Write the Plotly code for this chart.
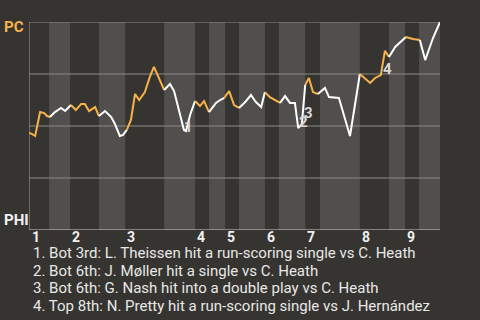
import plotly.graph_objects as go
import bisect

# ---- data ----
# game progress (% of plays elapsed) and PC win probability
progress = [0, 0.7, 1.5, 2.7, 3.7, 4.4, 5.1, 6.3, 7.8, 8.8, 10.2, 11.4, 12.7, 13.6, 14.6,
            16.1, 17.0, 18.5, 20.0, 20.9, 22.1, 22.9, 23.8, 24.8, 25.8, 26.8, 28.2, 29.4,
            30.4, 31.6, 32.9, 34.3, 35.3, 36.3, 37.7, 38.2, 39.2, 40.4, 41.6, 42.6, 43.8,
            45.5, 46.5, 47.5, 48.7, 49.9, 51.1, 52.6, 54.0, 55.2, 56.5, 57.4, 58.6, 61.1,
            62.3, 63.5, 64.7, 65.5, 66.4, 67.2, 68.1, 69.1, 70.3, 72.0, 73.0, 75.4, 76.4,
            78.1, 80.5, 83.0, 84.2, 85.6, 86.6, 87.6, 89.1, 91.7, 93.4, 95.1, 96.4, 98.3, 100]
pc_win = [0.466, 0.462, 0.452, 0.567, 0.562, 0.548, 0.543, 0.567, 0.587, 0.572, 0.601, 0.577,
          0.606, 0.606, 0.572, 0.591, 0.548, 0.572, 0.543, 0.510, 0.452, 0.457, 0.481, 0.529,
          0.654, 0.625, 0.663, 0.736, 0.784, 0.731, 0.673, 0.702, 0.668, 0.591, 0.481, 0.476,
          0.553, 0.620, 0.596, 0.620, 0.567, 0.611, 0.625, 0.635, 0.668, 0.601, 0.587, 0.615,
          0.649, 0.615, 0.591, 0.663, 0.639, 0.611, 0.644, 0.611, 0.611, 0.490, 0.510, 0.697,
          0.731, 0.663, 0.654, 0.683, 0.639, 0.635, 0.567, 0.452, 0.750, 0.707, 0.731, 0.745,
          0.861, 0.832, 0.880, 0.928, 0.918, 0.913, 0.817, 0.923, 1.0]

# start of each half inning (top 1, bot 1, top 2, ...) and end of game
half_starts = [0.2, 4.9, 10.0, 17.0, 23.4, 32.9, 40.4, 43.8, 47.7, 51.1, 57.4, 60.8,
               67.2, 70.8, 80.5, 87.6, 91.5, 94.9, 100]
innings = ["1", "2", "3", "4", "5", "6", "7", "8", "9"]

event_ids = ["1", "2", "3", "4"]
event_x = [38.7, 66.7, 68.1, 87.3]
event_y = [0.495, 0.517, 0.562, 0.774]
event_text = [
    "1. Bot 3rd: L. Theissen hit a run-scoring single vs C. Heath",
    "2. Bot 6th: J. Møller hit a single vs C. Heath",
    "3. Bot 6th: G. Nash hit into a double play vs C. Heath",
    "4. Top 8th: N. Pretty hit a run-scoring single vs J. Hernández",
]
team_top = "PC"
team_bottom = "PHI"

# ---- style ----
BG = "#363430"
BAND = "#504f4d"
ORANGE = "#f7b24a"
WHITE = "#ffffff"
GRID = "#8a8a88"
FONT = "Roboto"

fig = go.Figure()

# colour line segments by half inning (top = orange, bottom = white)
def half_index(x):
    return max(0, bisect.bisect_right(half_starts, x) - 1)

seg_x, seg_y, cur = [progress[0]], [pc_win[0]], None
for i in range(len(progress) - 1):
    mid = (progress[i] + progress[i + 1]) / 2
    col = ORANGE if half_index(mid) % 2 == 0 else WHITE
    if cur is not None and col != cur:
        fig.add_trace(go.Scatter(x=seg_x, y=seg_y, mode="lines",
                                 line=dict(color=cur, width=2), hoverinfo="skip"))
        seg_x, seg_y = [progress[i]], [pc_win[i]]
    cur = col
    seg_x.append(progress[i + 1])
    seg_y.append(pc_win[i + 1])
fig.add_trace(go.Scatter(x=seg_x, y=seg_y, mode="lines",
                         line=dict(color=cur, width=2), hoverinfo="skip"))

shapes = []
for k in range(len(half_starts) - 1):
    if k % 2 == 1:
        shapes.append(dict(type="rect", xref="x", yref="y", x0=half_starts[k],
                           x1=half_starts[k + 1], y0=0, y1=1, fillcolor=BAND,
                           line=dict(width=0), layer="below"))
for gy in [0.25, 0.5, 0.75, 1.0]:
    shapes.append(dict(type="line", xref="x", yref="y", x0=0, x1=100, y0=gy, y1=gy,
                       line=dict(color=GRID, width=1), layer="below"))
shapes.append(dict(type="line", xref="x", yref="y", x0=0, x1=100, y0=0, y1=0,
                   line=dict(color="#cfcfcf", width=1), layer="below"))
shapes.append(dict(type="line", xref="x", yref="y", x0=0, x1=0, y0=0, y1=1,
                   line=dict(color="#a0a0a0", width=1), layer="below"))

annotations = []
for k, lab in enumerate(innings):
    annotations.append(dict(x=half_starts[2 * k], y=-0.036, xref="x", yref="paper", text=lab,
                            showarrow=False, xanchor="left", yanchor="middle",
                            font=dict(family=FONT, size=14, color="#f0f0f0", weight="bold")))
for lab, ex, ey in zip(event_ids, event_x, event_y):
    annotations.append(dict(x=ex, y=ey, xref="x", yref="y", text=lab, showarrow=False,
                            xanchor="center", yanchor="middle",
                            font=dict(family=FONT, size=15, color="#d8d8d8", weight="bold")))
for i, t in enumerate(event_text):
    annotations.append(dict(x=0.004, y=-0.111 - i * 0.0845, xref="paper", yref="paper",
                            text=t, showarrow=False, xanchor="left", yanchor="middle",
                            font=dict(family=FONT, size=15, color="#e8e8e8")))
annotations.append(dict(x=-0.066, y=0.975, xref="paper", yref="paper", text=team_top,
                        showarrow=False, xanchor="left", yanchor="middle",
                        font=dict(family=FONT, size=15, color=ORANGE, weight="bold")))
annotations.append(dict(x=-0.066, y=0.05, xref="paper", yref="paper", text=team_bottom,
                        showarrow=False, xanchor="left", yanchor="middle",
                        font=dict(family=FONT, size=15, color="#f0f0f0", weight="bold")))

fig.update_layout(
    width=480, height=320,
    margin=dict(l=29, r=40, t=22, b=90),
    paper_bgcolor=BG, plot_bgcolor=BG,
    showlegend=False,
    shapes=shapes, annotations=annotations,
    xaxis=dict(range=[0, 100], visible=False, fixedrange=True),
    yaxis=dict(range=[0, 1], visible=False, fixedrange=True),
)

fig.write_html("out.html", config={"displayModeBar": False})
